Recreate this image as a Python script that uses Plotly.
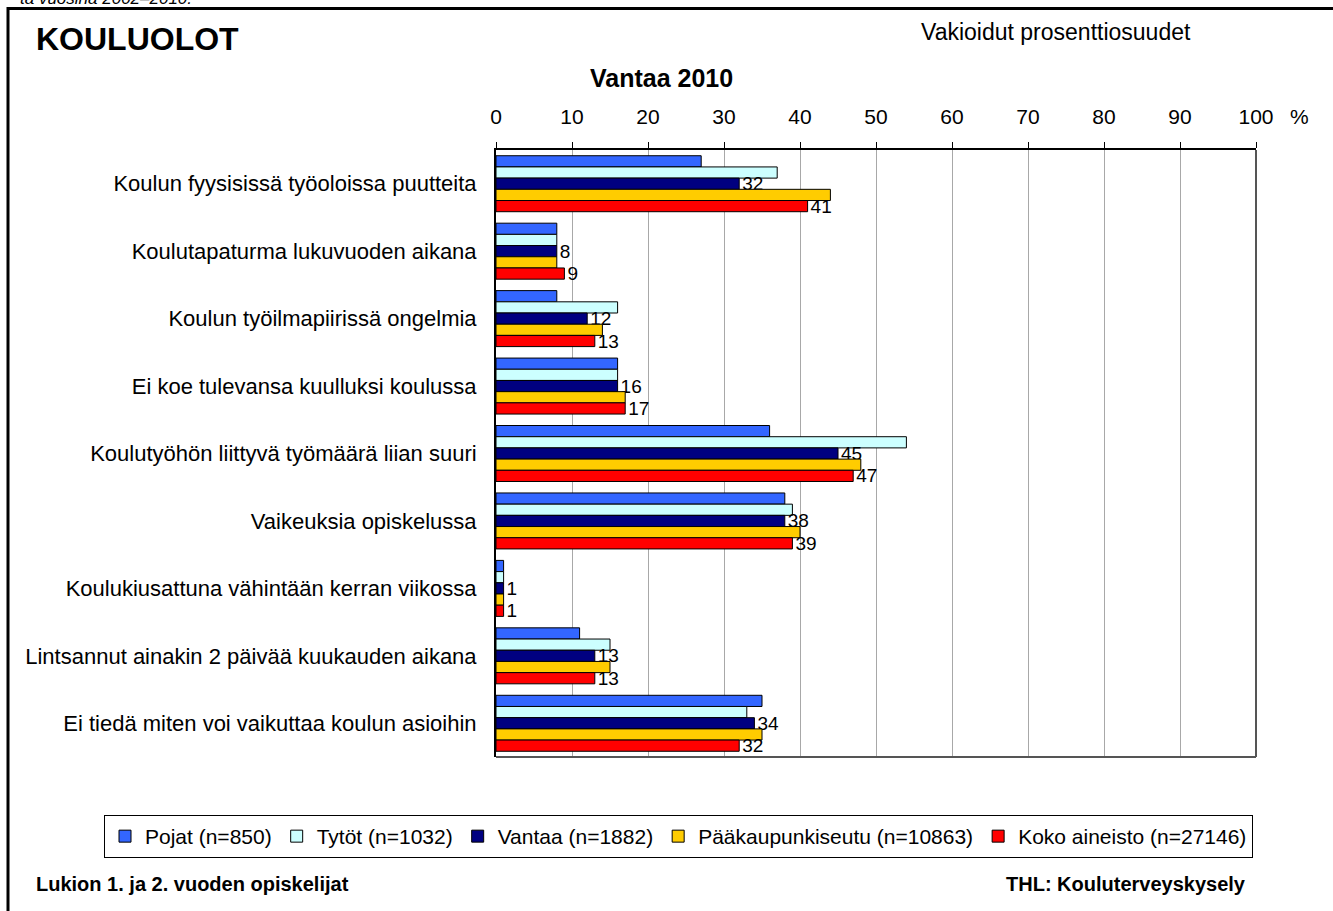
import plotly.graph_objects as go

categories = [
    "Koulun fyysisissä työoloissa puutteita",
    "Koulutapaturma lukuvuoden aikana",
    "Koulun työilmapiirissä ongelmia",
    "Ei koe tulevansa kuulluksi koulussa",
    "Koulutyöhön liittyvä työmäärä liian suuri",
    "Vaikeuksia opiskelussa",
    "Koulukiusattuna vähintään kerran viikossa",
    "Lintsannut ainakin 2 päivää kuukauden aikana",
    "Ei tiedä miten voi vaikuttaa koulun asioihin",
]
series_names = [
    "Pojat (n=850)",
    "Tytöt (n=1032)",
    "Vantaa (n=1882)",
    "Pääkaupunkiseutu (n=10863)",
    "Koko aineisto (n=27146)",
]
pojat = [27, 8, 8, 16, 36, 38, 1, 11, 35]
tytot = [37, 8, 16, 16, 54, 39, 1, 15, 33]
vantaa = [32, 8, 12, 16, 45, 38, 1, 13, 34]
paakaupunkiseutu = [44, 8, 14, 17, 48, 40, 1, 15, 35]
koko = [41, 9, 13, 17, 47, 39, 1, 13, 32]
x_ticks = [0, 10, 20, 30, 40, 50, 60, 70, 80, 90, 100]

values = [pojat, tytot, vantaa, paakaupunkiseutu, koko]
colors = ["#3366FF", "#CCFFFF", "#000080", "#FFCC00", "#FF0000"]
show_labels = [False, False, True, False, True]

FONT = "Liberation Sans, Arial, sans-serif"

fig = go.Figure()
for name, vals, col, lab in zip(series_names, values, colors, show_labels):
    fig.add_trace(go.Bar(
        y=categories, x=vals, name=name, orientation="h",
        marker=dict(color=col, line=dict(color="#000000", width=1)),
        text=[str(v) for v in vals] if lab else None,
        textposition="outside" if lab else "none",
        textfont=dict(size=19, color="#000000", family=FONT),
        constraintext="none", cliponaxis=False,
    ))

W, H = 1333, 911
L, R, T, B = 496, 1256, 150, 757


def px(x):
    return (x - L) / (R - L)


def py(y):
    return (B - y) / (B - T)


fig.update_layout(
    width=W, height=H,
    margin=dict(l=L, r=W - R, t=T, b=H - B, autoexpand=False),
    paper_bgcolor="white", plot_bgcolor="white",
    font=dict(family=FONT, size=21, color="#000000"),
    barmode="group", bargap=0.17, bargroupgap=0,
    showlegend=True,
    legend=dict(
        orientation="h", x=px(104), y=py(815), xanchor="left", yanchor="top",
        bordercolor="#000000", borderwidth=1, font=dict(size=21, family=FONT),
        traceorder="normal", itemwidth=30,
    ),
    xaxis=dict(
        side="top", range=[0, 100], tickvals=x_ticks,
        showgrid=True, gridcolor="#A8A8A8", gridwidth=1,
        showline=True, linecolor="#000000", linewidth=2,
        ticks="outside", ticklen=6, tickcolor="#000000",
        tickfont=dict(size=21), ticklabelstandoff=10, zeroline=False,
    ),
    yaxis=dict(
        autorange="reversed", showline=True, linecolor="#000000", linewidth=2,
        ticks="", tickfont=dict(size=22), ticklabelstandoff=13, showgrid=False,
    ),
    shapes=[
        dict(type="line", xref="paper", yref="paper", x0=1, x1=1, y0=0, y1=1,
             line=dict(color="#555555", width=2)),
        dict(type="line", xref="paper", yref="paper", x0=0, x1=1, y0=0, y1=0,
             line=dict(color="#555555", width=2)),
        dict(type="rect", xref="paper", yref="paper",
             x0=px(8), x1=px(1345), y0=py(8.5), y1=py(930),
             line=dict(color="#000000", width=3)),
    ],
    annotations=[
        dict(text="ta vuosina 2002–2010.", xref="paper", yref="paper",
             x=px(18), y=py(10), xanchor="left", yanchor="bottom", showarrow=False,
             font=dict(size=17, style="italic")),
        dict(text="<b>KOULUOLOT</b>", xref="paper", yref="paper",
             x=px(34), y=py(39), xanchor="left", yanchor="middle", showarrow=False,
             font=dict(size=32)),
        dict(text="Vakioidut prosenttiosuudet", xref="paper", yref="paper",
             x=px(1193), y=py(32), xanchor="right", yanchor="middle", showarrow=False,
             font=dict(size=23)),
        dict(text="<b>Vantaa 2010</b>", xref="paper", yref="paper",
             x=px(661), y=py(78), xanchor="center", yanchor="middle", showarrow=False,
             font=dict(size=25)),
        dict(text="%", xref="paper", yref="paper",
             x=px(1299), y=py(116), xanchor="center", yanchor="middle", showarrow=False,
             font=dict(size=21)),
        dict(text="<b>Lukion 1. ja 2. vuoden opiskelijat</b>", xref="paper", yref="paper",
             x=px(34), y=py(884), xanchor="left", yanchor="middle", showarrow=False,
             font=dict(size=20)),
        dict(text="<b>THL: Kouluterveyskysely</b>", xref="paper", yref="paper",
             x=px(1248), y=py(884), xanchor="right", yanchor="middle", showarrow=False,
             font=dict(size=20)),
    ],
)

fig.write_html("out.html", config={"displayModeBar": False},
               post_script="document.body.style.margin='0px';")
